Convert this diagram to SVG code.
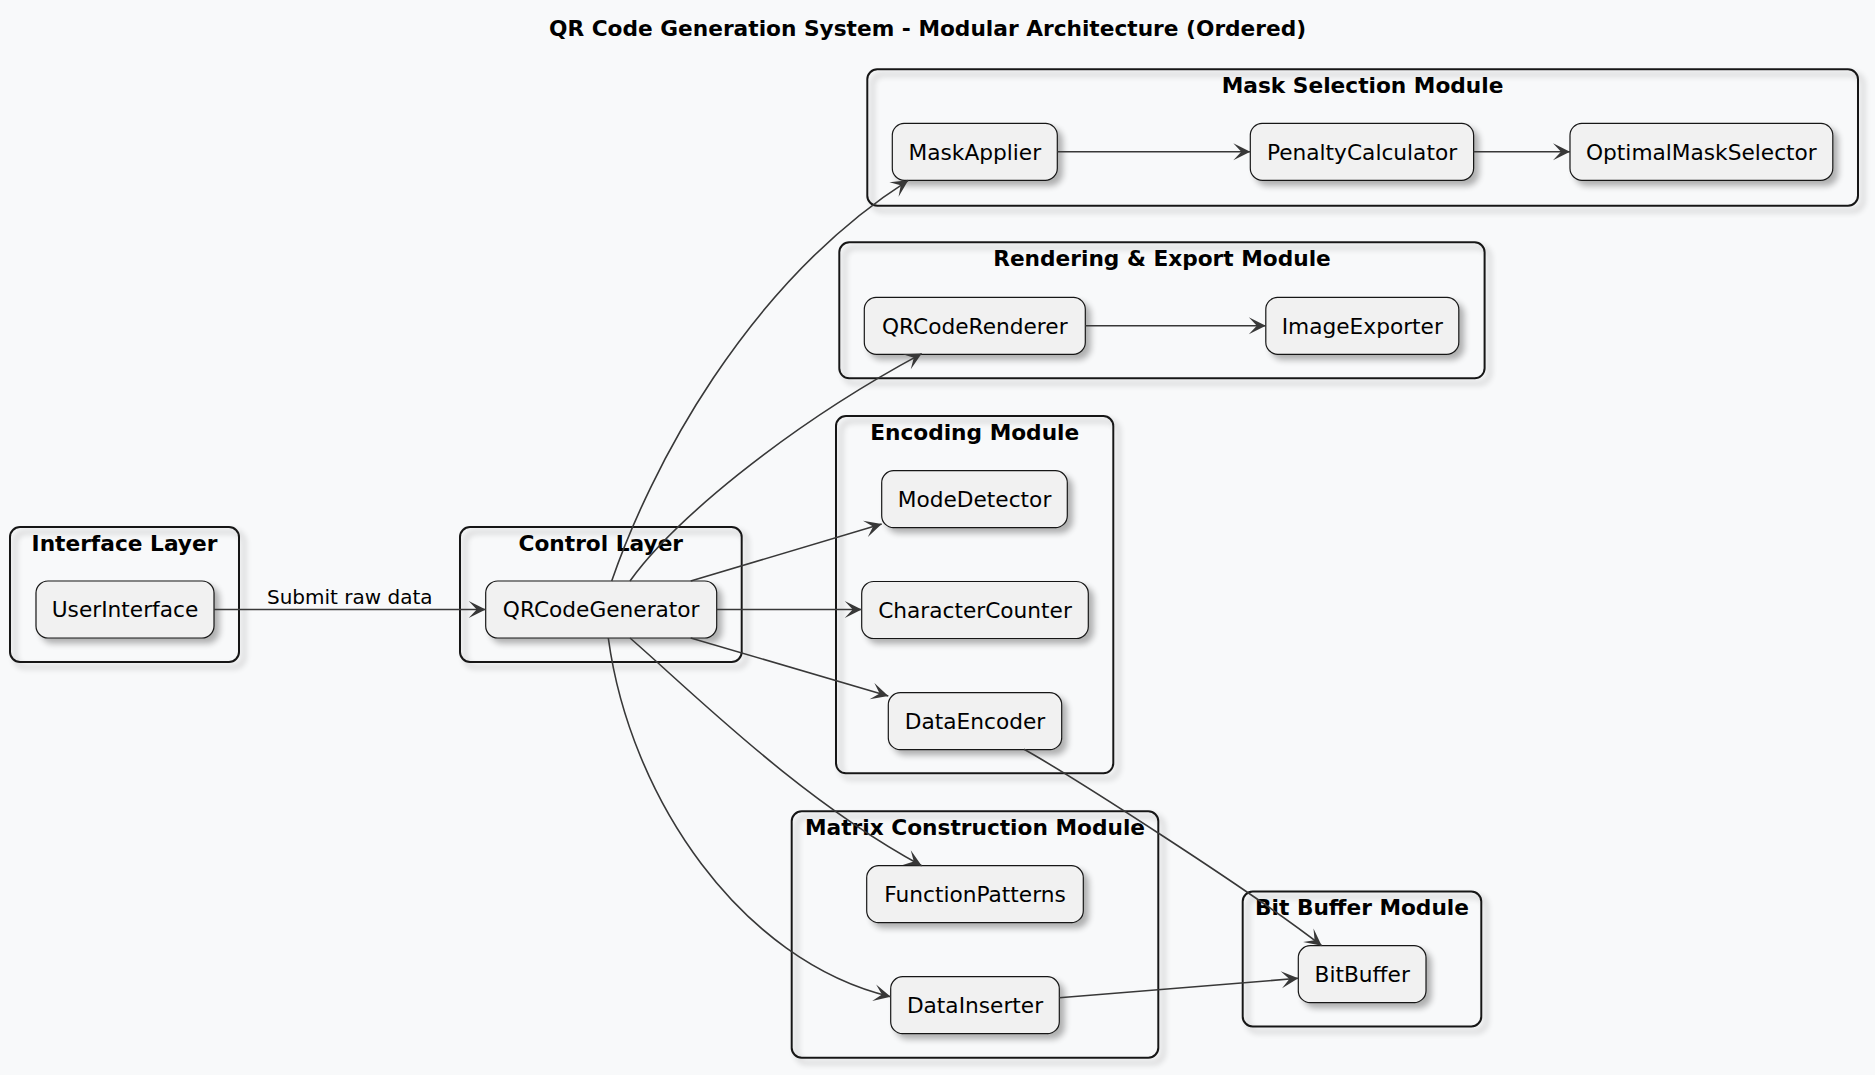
<svg xmlns="http://www.w3.org/2000/svg" width="1875" height="1075" viewBox="0 0 1875 1075">
<defs>
<filter id="sh" x="-10%" y="-10%" width="130%" height="140%">
<feGaussianBlur in="SourceAlpha" stdDeviation="3"/>
<feOffset dx="5" dy="5" result="b"/>
<feComponentTransfer><feFuncA type="linear" slope="0.3"/></feComponentTransfer>
<feMerge><feMergeNode/><feMergeNode in="SourceGraphic"/></feMerge>
</filter>
<marker id="ar" markerUnits="userSpaceOnUse" orient="auto" markerWidth="20" markerHeight="20" refX="0" refY="0" viewBox="-18 -10 20 20" overflow="visible">
<path d="M0,0 L-17,-8.5 L-9,0 L-17,8.5 Z" fill="#383838"/>
</marker>
<style>
text{font-family:"DejaVu Sans","Liberation Sans",sans-serif;fill:#000}
.grp rect{fill:none;stroke:#181818;stroke-width:2}
.grp text{font-weight:bold;font-size:21.7px;text-anchor:middle}
.node rect{fill:#F1F1F1;stroke:#181818;stroke-width:1.2}
.node text{font-size:21.7px;text-anchor:middle}
.edges path{fill:none;stroke:#383838;stroke-width:1.6;marker-end:url(#ar)}
.lbl{font-size:20px}
.title{font-weight:bold;font-size:21.7px;text-anchor:middle}
</style>
</defs>
<rect width="1875" height="1075" fill="#F8F9FA"/>
<text class="title" x="927.6" y="36">QR Code Generation System - Modular Architecture (Ordered)</text>

<g id="grp-interface" class="grp"><rect x="10" y="527" width="229" height="135" rx="10" filter="url(#sh)"/><text x="124.5" y="550.5">Interface Layer</text></g>
<g id="grp-control" class="grp"><rect x="460" y="527" width="281.7" height="135" rx="10" filter="url(#sh)"/><text x="600.8" y="550.5">Control Layer</text></g>
<g id="grp-mask" class="grp"><rect x="867.3" y="69.3" width="990.7" height="136.4" rx="10" filter="url(#sh)"/><text x="1362.6" y="92.5">Mask Selection Module</text></g>
<g id="grp-render" class="grp"><rect x="839.3" y="242.3" width="645.3" height="136" rx="10" filter="url(#sh)"/><text x="1162" y="265.5">Rendering &amp; Export Module</text></g>
<g id="grp-encoding" class="grp"><rect x="836" y="416" width="277.3" height="357.3" rx="10" filter="url(#sh)"/><text x="974.7" y="439.5">Encoding Module</text></g>
<g id="grp-matrix" class="grp"><rect x="791.7" y="811.3" width="366.6" height="246.4" rx="10" filter="url(#sh)"/><text x="975" y="834.7">Matrix Construction Module</text></g>
<g id="grp-bitbuffer" class="grp"><rect x="1242.7" y="891.5" width="238.6" height="135" rx="10" filter="url(#sh)"/><text x="1362" y="915">Bit Buffer Module</text></g>

<g id="UserInterface" class="node"><rect x="36" y="581" width="178" height="57" rx="12" filter="url(#sh)"/><text x="125" y="617.4">UserInterface</text></g>
<g id="QRCodeGenerator" class="node"><rect x="485.7" y="581" width="231" height="57" rx="12" filter="url(#sh)"/><text x="601.2" y="617.4">QRCodeGenerator</text></g>
<g id="MaskApplier" class="node"><rect x="892.3" y="123.3" width="165" height="57" rx="12" filter="url(#sh)"/><text x="974.8" y="159.7">MaskApplier</text></g>
<g id="PenaltyCalculator" class="node"><rect x="1250.3" y="123.3" width="223.3" height="57" rx="12" filter="url(#sh)"/><text x="1362" y="159.7">PenaltyCalculator</text></g>
<g id="OptimalMaskSelector" class="node"><rect x="1570" y="123.3" width="262.8" height="57" rx="12" filter="url(#sh)"/><text x="1701.4" y="159.7">OptimalMaskSelector</text></g>
<g id="QRCodeRenderer" class="node"><rect x="864.3" y="297.3" width="221" height="57" rx="12" filter="url(#sh)"/><text x="974.8" y="333.7">QRCodeRenderer</text></g>
<g id="ImageExporter" class="node"><rect x="1265.8" y="297.3" width="193" height="57" rx="12" filter="url(#sh)"/><text x="1362.3" y="333.7">ImageExporter</text></g>
<g id="ModeDetector" class="node"><rect x="881.7" y="470.7" width="185.6" height="57" rx="12" filter="url(#sh)"/><text x="974.5" y="507.1">ModeDetector</text></g>
<g id="CharacterCounter" class="node"><rect x="861.7" y="581.5" width="226.6" height="57" rx="12" filter="url(#sh)"/><text x="975" y="617.9">CharacterCounter</text></g>
<g id="DataEncoder" class="node"><rect x="888.3" y="692.7" width="173.4" height="57" rx="12" filter="url(#sh)"/><text x="975" y="729.1">DataEncoder</text></g>
<g id="FunctionPatterns" class="node"><rect x="866.7" y="865.7" width="216.6" height="57" rx="12" filter="url(#sh)"/><text x="975" y="902.1">FunctionPatterns</text></g>
<g id="DataInserter" class="node"><rect x="890.7" y="976.7" width="168.6" height="57" rx="12" filter="url(#sh)"/><text x="975" y="1013.1">DataInserter</text></g>
<g id="BitBuffer" class="node"><rect x="1298.3" y="945.7" width="127.7" height="57" rx="12" filter="url(#sh)"/><text x="1362.2" y="982.1">BitBuffer</text></g>

<g id="connectors" class="edges">
<path d="M214,609.5 L485.7,609.5"/>
<path d="M611.7,581 C650,470 745,285 908.3,180.3"/>
<path d="M630,581 C670,525 780,430 921.7,353.6"/>
<path d="M690.7,581 L881.7,524"/>
<path d="M716.7,609.5 L861.7,609.5"/>
<path d="M690.7,638 L888.3,696"/>
<path d="M630,638 C690,690 800,800 921.7,865.7"/>
<path d="M608.3,638 C630,798 741,961 890.7,996.7"/>
<path d="M1024,749.3 C1070,775 1250,890 1321.7,945.7"/>
<path d="M1059.3,997.7 L1298.3,978.3"/>
<path d="M1057.3,151.8 L1250.3,151.8"/>
<path d="M1473.6,151.8 L1570,151.8"/>
<path d="M1085.3,325.8 L1265.8,325.8"/>
</g>
<text class="lbl" x="267" y="604">Submit raw data</text>
</svg>
